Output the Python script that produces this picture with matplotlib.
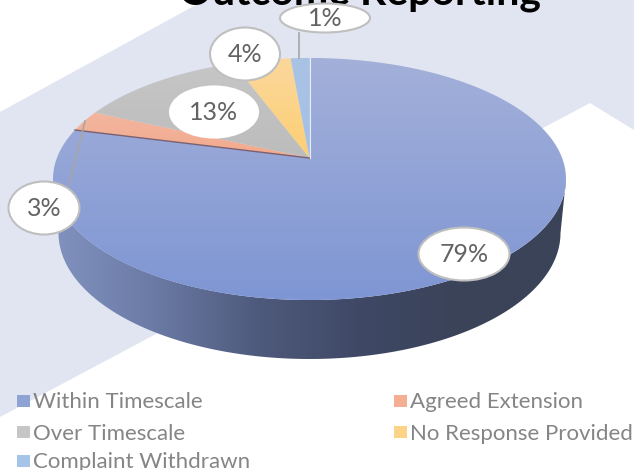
import numpy as np
import matplotlib
matplotlib.use("Agg")
import matplotlib.pyplot as plt
from matplotlib.colors import LinearSegmentedColormap
from matplotlib.patches import Ellipse, Polygon, Rectangle

plt.rcParams['font.family'] = ['Lato', 'DejaVu Sans']

title = "Outcome Reporting"
categories = ["Within Timescale", "Agreed Extension", "Over Timescale",
              "No Response Provided", "Complaint Withdrawn"]
values = [79.0, 2.8, 12.5, 4.3, 1.4]
value_labels = ["79%", "3%", "13%", "4%", "1%"]

legend_colors = ["#8fa2d4", "#f4ae93", "#c6c6c6", "#fdd487", "#a5c4e8"]
top_colors = ["#a3b0d9", "#f2b6a0", "#c6c6c6", "#fbd79c", "#a9c3e4"]
low_colors = ["#7f96d4", "#f3a98b", "#bcbcbc", "#fccf74", "#a3c1e6"]

W, H = 634, 470

# perspective of the pie top
cx, apex_y = 309.5, 158
rx, ry, k = 252.6, 117.4, 0.1736


def project(theta):
    # theta runs clockwise from 12 o'clock
    u, v = np.sin(theta), np.cos(theta)
    w = 1 / (1 + k * v)
    return cx + rx * u * w, apex_y - ry * v * w


def gradient_fill(ax, path_xy, colors, horizontal=False, extent=None):
    patch = Polygon(path_xy, closed=True, fc='none', ec='none')
    ax.add_patch(patch)
    xs, ys = path_xy[:, 0], path_xy[:, 1]
    if extent is None:
        extent = (xs.min(), xs.max(), ys.max(), ys.min())
    cmap = LinearSegmentedColormap.from_list("g", colors)
    ramp = np.linspace(0, 1, 256)
    ramp = ramp[None, :] if horizontal else ramp[:, None]
    im = ax.imshow(ramp, cmap=cmap, extent=extent, aspect='auto', zorder=2,
                   interpolation='bilinear')
    im.set_clip_path(patch)


fig = plt.figure(figsize=(W / 100, H / 100), dpi=100)
ax = fig.add_axes([0, 0, 1, 1])

# background band behind the pie
ax.add_patch(Polygon([(0, 112), (205, 0), (634, 0), (634, 130), (590, 103), (0, 417)],
                     closed=True, fc="#e1e5f1", ec='none', zorder=0))

# title is cut by the top of the picture in the reference too
ax.text(360, 4, title, ha='center', va='baseline', fontsize=29.5, fontweight='bold',
        color='black', zorder=3)

# side wall
t = np.linspace(0, np.pi, 200)
top_edge_x = 309.5 + 256.5 * np.cos(t)
top_edge_y = 179 + 121 * np.sin(t)
low_edge_x = 309.5 + 251 * np.cos(t[::-1])
low_edge_y = 233 + 126 * np.sin(t[::-1])
wall = np.column_stack([np.r_[top_edge_x, low_edge_x], np.r_[top_edge_y, low_edge_y]])
gradient_fill(ax, wall, ["#8192c0", "#6a7aa4", "#4e5a7c", "#3f4865", "#3a4358", "#3a4358"],
              horizontal=True, extent=(53, 566, 359, 179))

# top face, one wedge per value
edges = np.r_[0, np.cumsum(values)] / sum(values) * 2 * np.pi
for i in range(len(values)):
    a = np.linspace(edges[i], edges[i + 1], 300)
    x, y = project(a)
    gradient_fill(ax, np.column_stack([np.r_[cx, x], np.r_[apex_y, y]]),
                  [top_colors[i], low_colors[i]])

# edges between wedges that show on the picture
x1, y1 = project(edges[1])
ax.plot([cx, x1], [apex_y, y1], color="#7a6070", lw=1, zorder=3)
x0, y0 = project(0.0)
ax.plot([cx, x0], [apex_y, y0], color="#e8ecf6", lw=0.8, zorder=3)

# leader lines
ax.plot([85, 69], [121, 185], color="#a6a6a6", lw=1.2, zorder=3)
ax.plot([299, 299], [33, 58], color="#a6a6a6", lw=1.2, zorder=3)

# value callouts: 79, 3, 13, 4, 1
centers = [(464, 254), (44, 208), (214, 112), (245, 54), (325, 18)]
sizes = [(91, 53), (71, 53), (88, 51), (70, 53), (90, 29)]
edge_cols = ["#bfbfbf", "#bfbfbf", "white", "#bfbfbf", "#bfbfbf"]
for lab, c, s, ec in zip(value_labels, centers, sizes, edge_cols):
    ax.add_patch(Ellipse(c, s[0], s[1], fc='white', ec=ec, lw=1.5, zorder=4))
    ax.text(c[0], c[1] + 1, lab, ha='center', va='center', fontsize=18,
            color="#636363", zorder=5)

# legend, filled row by row
swatch_x = [17, 394]
row_y = [401, 432, 461]
for i, name in enumerate(categories):
    sx, sy = swatch_x[i % 2], row_y[i // 2]
    ax.add_patch(Rectangle((sx, sy - 6), 13, 12, fc=legend_colors[i], ec='none', zorder=3))
    ax.text(sx + 16, sy + 1.5, name, ha='left', va='center', fontsize=16, color="#858585",
            zorder=5)

ax.set_xlim(0, W)
ax.set_ylim(H, 0)
ax.axis('off')
fig.savefig("out.png", dpi=100)
